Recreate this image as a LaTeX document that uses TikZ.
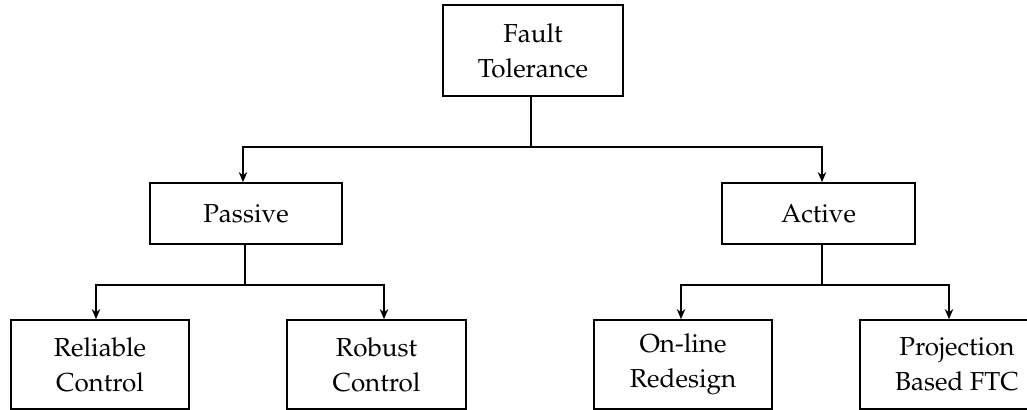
\documentclass[tikz,border=0pt]{standalone}
\usepackage[T1]{fontenc}
\renewcommand{\rmdefault}{ppl}
\usetikzlibrary{arrows.meta,calc}
\begin{document}
\begin{tikzpicture}[x=0.5pt,y=-0.5pt,
  box/.style={draw,line width=0.85pt,align=center,inner sep=0pt,
    font=\fontsize{13}{17.5}\selectfont},
  conn/.style={line width=0.85pt},
  arr/.style={conn,-{Stealth[length=5pt,width=4.2pt,inset=1.6pt]}}]
\useasboundingbox (0,0) rectangle (1027,410);
\node[box,minimum width=90pt,minimum height=45.5pt] (top) at (533,50.5) {Fault\\Tolerance};
\node[box,minimum width=96pt,minimum height=30.5pt] (passive) at (246,213.5) {Passive};
\node[box,minimum width=96.5pt,minimum height=30.5pt] (active) at (818.5,213.5) {Active};
\node[box,minimum width=89pt,minimum height=44.5pt] (rel) at (100,364.5) {Reliable\\Control};
\node[box,minimum width=89.5pt,minimum height=44.5pt] (rob) at (376.5,364.5) {Robust\\Control};
\node[box,minimum width=89pt,minimum height=44.5pt] (onl) at (683,364.5) {On-line\\Redesign};
\node[box,minimum width=97pt,minimum height=44.5pt] (proj) at (957,364.5) {Projection\\Based FTC};
\coordinate (j1) at (531,147);
\coordinate (j2) at (245,285);
\coordinate (j3) at (822,285);
\draw[conn] (top.south -| j1) -- (j1);
\draw[arr] (j1) -| (passive.north -| 243,0);
\draw[arr] (j1) -| (active.north -| 822,0);
\draw[conn] (passive.south -| j2) -- (j2);
\draw[arr] (j2) -| (rel.north -| 96,0);
\draw[arr] (j2) -| (rob.north -| 384,0);
\draw[conn] (active.south -| j3) -- (j3);
\draw[arr] (j3) -| (onl.north -| 681,0);
\draw[arr] (j3) -| (proj.north -| 949,0);
\end{tikzpicture}
\end{document}
